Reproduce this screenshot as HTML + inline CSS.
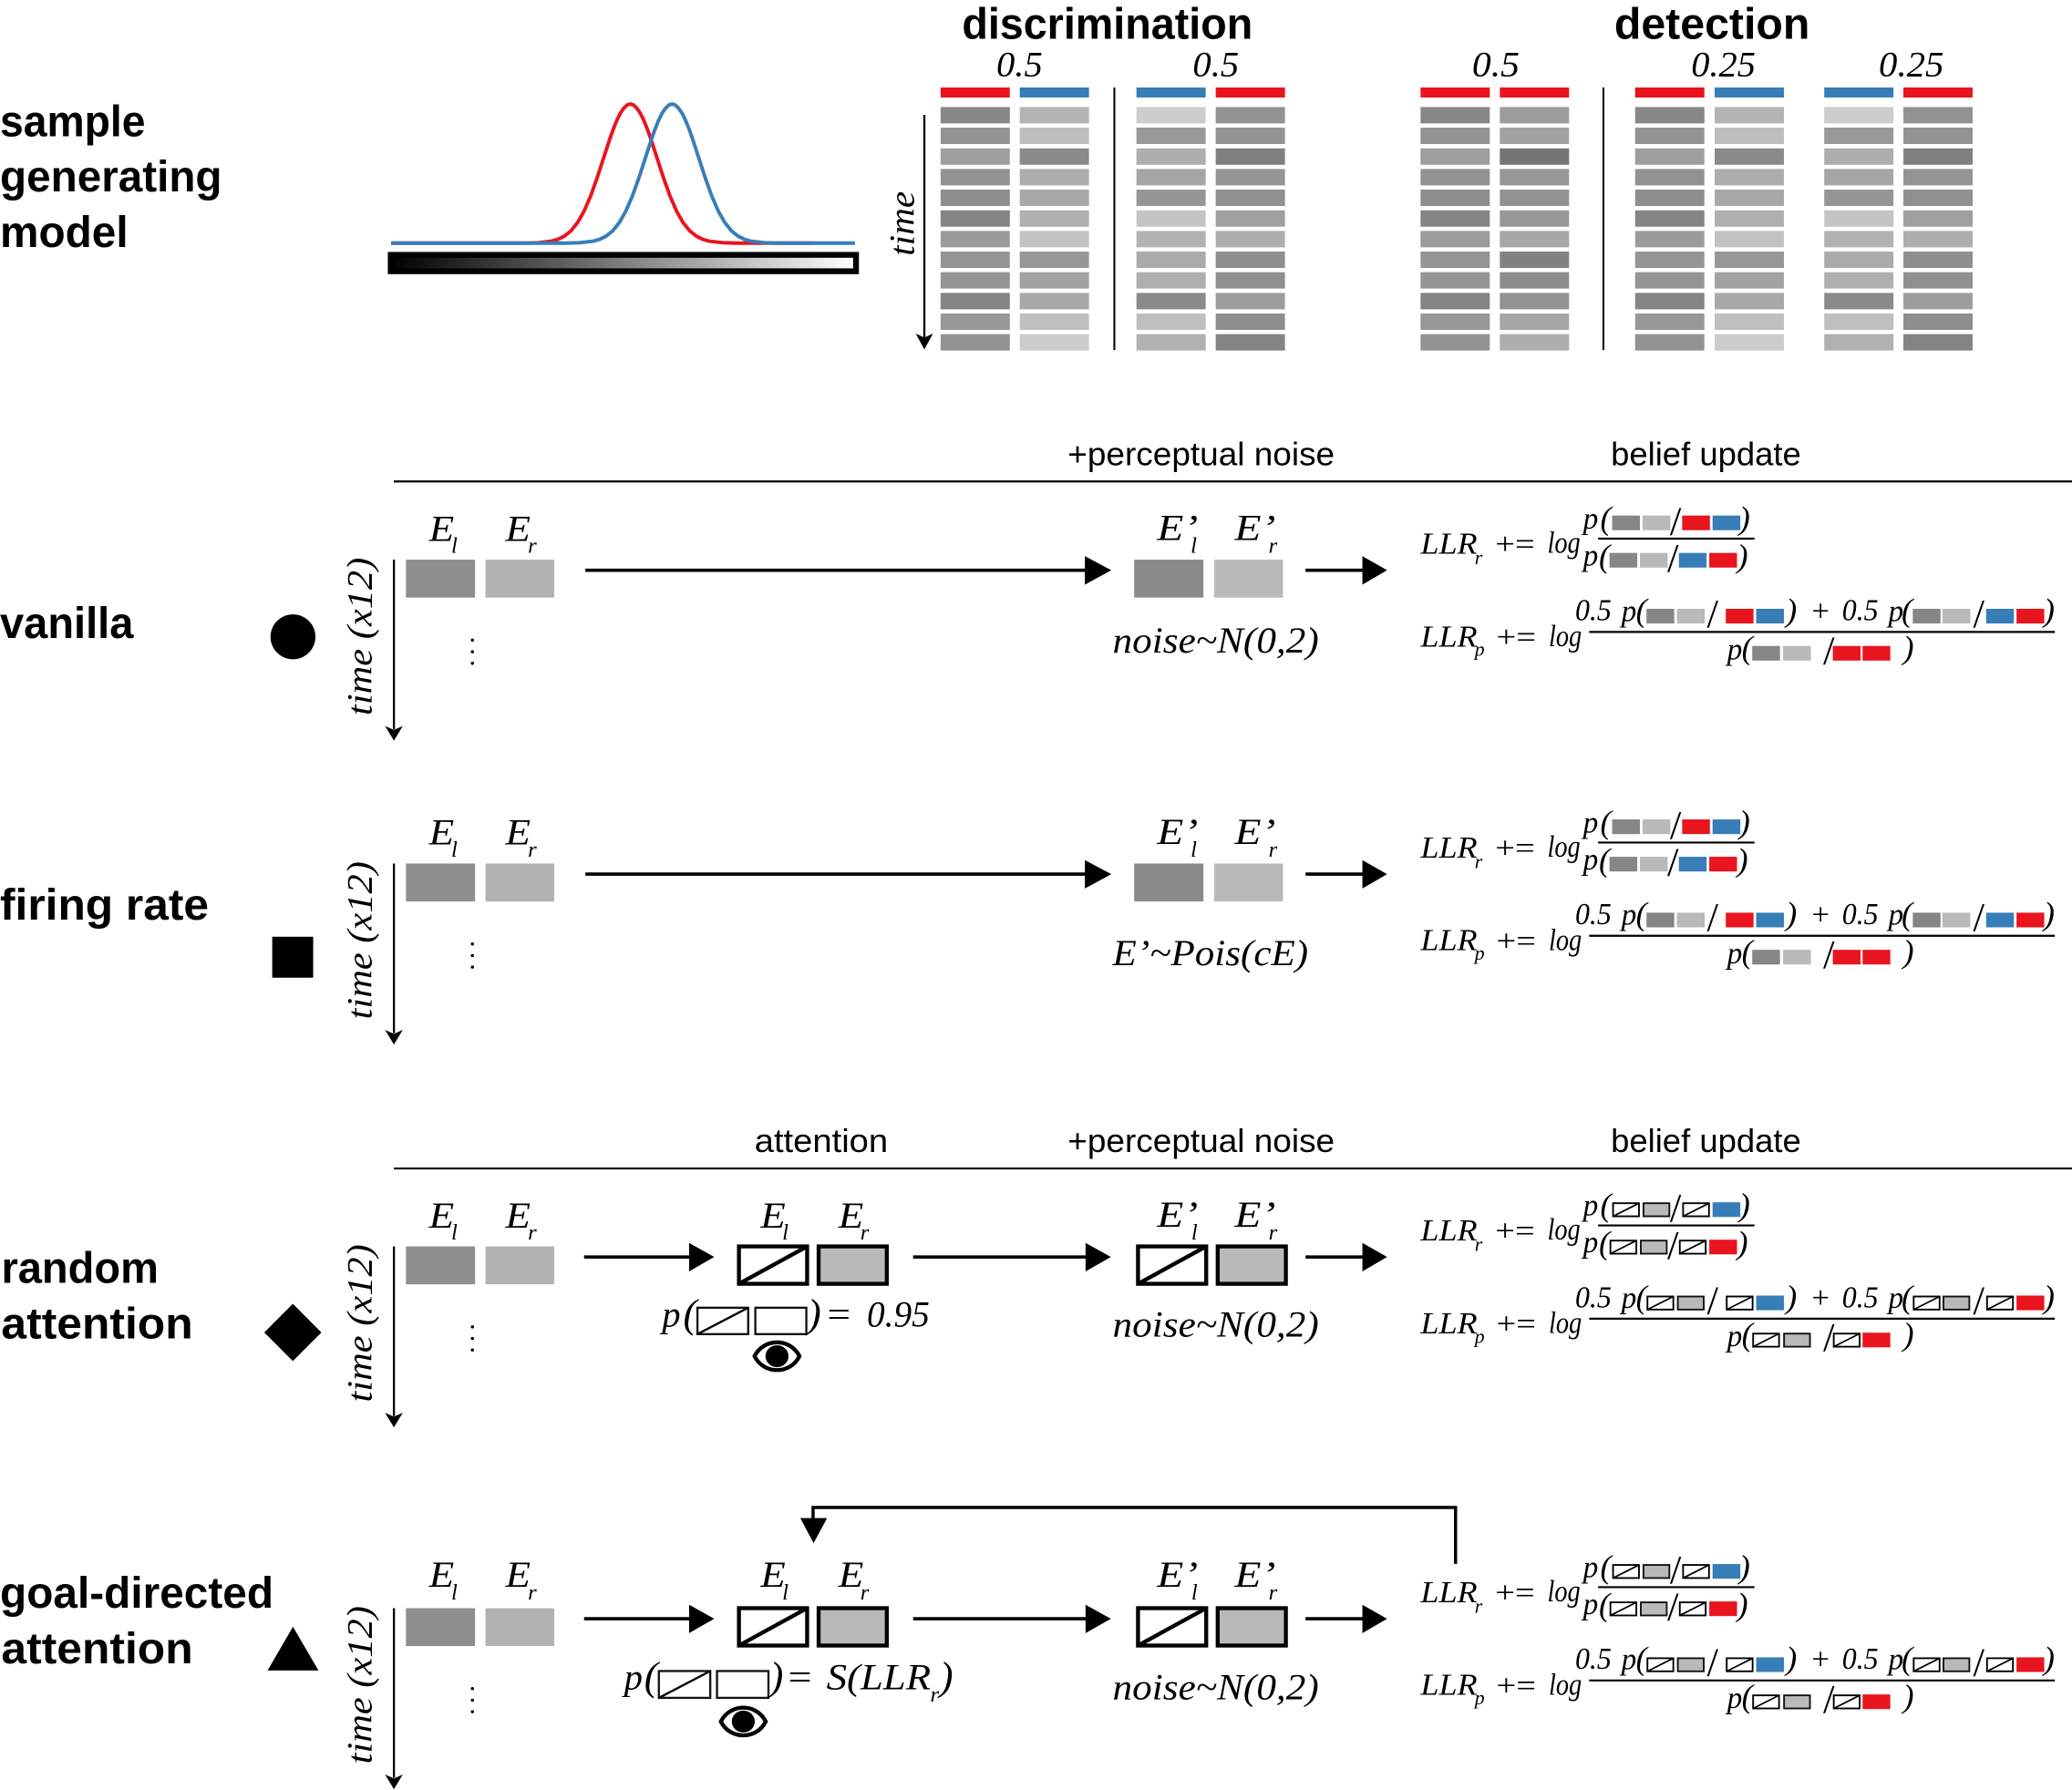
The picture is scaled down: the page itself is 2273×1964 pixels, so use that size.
<!DOCTYPE html>
<html><head><meta charset="utf-8"><title>Model diagram</title>
<style>
html,body{margin:0;padding:0;background:#fff}
svg{display:block}
text{fill:#000;white-space:pre}
.b{font:bold 33px "Liberation Sans",sans-serif}
.t{font:25px "Liberation Sans",sans-serif}
.m{font:italic 28px "Liberation Serif",serif}
.n{font:italic 27px "Liberation Serif",serif}
.s{font:italic 17px "Liberation Serif",serif}
.f{font:italic 23px "Liberation Serif",serif}
.x{font:italic 15px "Liberation Serif",serif}
.p{font:italic 25px "Liberation Serif",serif}
.l{font:31px "Liberation Serif",serif;text-anchor:middle}
.q{font:italic 31px "Liberation Serif",serif}
</style></head><body>
<svg xmlns="http://www.w3.org/2000/svg" width="2273" height="1964" viewBox="0 0 1568 1354.83">
<defs>
<linearGradient id="gr" x1="0" x2="1" y1="0" y2="0"><stop offset="0" stop-color="#000"/><stop offset="1" stop-color="#fff"/></linearGradient>
<g id="c1" fill="#888"><rect y="81" width="52.4" height="12.4" fill="#878787"/><rect y="96.6" width="52.4" height="12.4" fill="#939393"/><rect y="112.3" width="52.4" height="12.4" fill="#9e9e9e"/><rect y="127.9" width="52.4" height="12.4" fill="#929292"/><rect y="143.5" width="52.4" height="12.4" fill="#8e8e8e"/><rect y="159.2" width="52.4" height="12.4" fill="#848484"/><rect y="174.8" width="52.4" height="12.4" fill="#9b9b9b"/><rect y="190.4" width="52.4" height="12.4" fill="#949494"/><rect y="206" width="52.4" height="12.4" fill="#959595"/><rect y="221.7" width="52.4" height="12.4" fill="#848484"/><rect y="237.3" width="52.4" height="12.4" fill="#979797"/><rect y="252.9" width="52.4" height="12.4" fill="#939393"/></g>
<g id="c2"><rect y="81" width="52.4" height="12.4" fill="#b3b3b3"/><rect y="96.6" width="52.4" height="12.4" fill="#bdbdbd"/><rect y="112.3" width="52.4" height="12.4" fill="#8a8a8a"/><rect y="127.9" width="52.4" height="12.4" fill="#adadad"/><rect y="143.5" width="52.4" height="12.4" fill="#a8a8a8"/><rect y="159.2" width="52.4" height="12.4" fill="#b0b0b0"/><rect y="174.8" width="52.4" height="12.4" fill="#c2c2c2"/><rect y="190.4" width="52.4" height="12.4" fill="#979797"/><rect y="206" width="52.4" height="12.4" fill="#a2a2a2"/><rect y="221.7" width="52.4" height="12.4" fill="#a8a8a8"/><rect y="237.3" width="52.4" height="12.4" fill="#bfbfbf"/><rect y="252.9" width="52.4" height="12.4" fill="#cccccc"/></g>
<g id="c3"><rect y="81" width="52.4" height="12.4" fill="#cdcdcd"/><rect y="96.6" width="52.4" height="12.4" fill="#989898"/><rect y="112.3" width="52.4" height="12.4" fill="#aeaeae"/><rect y="127.9" width="52.4" height="12.4" fill="#a5a5a5"/><rect y="143.5" width="52.4" height="12.4" fill="#969696"/><rect y="159.2" width="52.4" height="12.4" fill="#c4c4c4"/><rect y="174.8" width="52.4" height="12.4" fill="#b2b2b2"/><rect y="190.4" width="52.4" height="12.4" fill="#aaaaaa"/><rect y="206" width="52.4" height="12.4" fill="#afafaf"/><rect y="221.7" width="52.4" height="12.4" fill="#8a8a8a"/><rect y="237.3" width="52.4" height="12.4" fill="#bfbfbf"/><rect y="252.9" width="52.4" height="12.4" fill="#b1b1b1"/></g>
<g id="c4"><rect y="81" width="52.4" height="12.4" fill="#929292"/><rect y="96.6" width="52.4" height="12.4" fill="#929292"/><rect y="112.3" width="52.4" height="12.4" fill="#808080"/><rect y="127.9" width="52.4" height="12.4" fill="#949494"/><rect y="143.5" width="52.4" height="12.4" fill="#909090"/><rect y="159.2" width="52.4" height="12.4" fill="#9f9f9f"/><rect y="174.8" width="52.4" height="12.4" fill="#aeaeae"/><rect y="190.4" width="52.4" height="12.4" fill="#8f8f8f"/><rect y="206" width="52.4" height="12.4" fill="#909090"/><rect y="221.7" width="52.4" height="12.4" fill="#9d9d9d"/><rect y="237.3" width="52.4" height="12.4" fill="#8e8e8e"/><rect y="252.9" width="52.4" height="12.4" fill="#848484"/></g>
<g id="c5"><rect y="81" width="52.4" height="12.4" fill="#878787"/><rect y="96.6" width="52.4" height="12.4" fill="#939393"/><rect y="112.3" width="52.4" height="12.4" fill="#9e9e9e"/><rect y="127.9" width="52.4" height="12.4" fill="#929292"/><rect y="143.5" width="52.4" height="12.4" fill="#8e8e8e"/><rect y="159.2" width="52.4" height="12.4" fill="#848484"/><rect y="174.8" width="52.4" height="12.4" fill="#9c9c9c"/><rect y="190.4" width="52.4" height="12.4" fill="#949494"/><rect y="206" width="52.4" height="12.4" fill="#959595"/><rect y="221.7" width="52.4" height="12.4" fill="#848484"/><rect y="237.3" width="52.4" height="12.4" fill="#979797"/><rect y="252.9" width="52.4" height="12.4" fill="#939393"/></g>
<g id="c6"><rect y="81" width="52.4" height="12.4" fill="#9c9c9c"/><rect y="96.6" width="52.4" height="12.4" fill="#a2a2a2"/><rect y="112.3" width="52.4" height="12.4" fill="#757575"/><rect y="127.9" width="52.4" height="12.4" fill="#979797"/><rect y="143.5" width="52.4" height="12.4" fill="#929292"/><rect y="159.2" width="52.4" height="12.4" fill="#979797"/><rect y="174.8" width="52.4" height="12.4" fill="#a7a7a7"/><rect y="190.4" width="52.4" height="12.4" fill="#828282"/><rect y="206" width="52.4" height="12.4" fill="#8d8d8d"/><rect y="221.7" width="52.4" height="12.4" fill="#929292"/><rect y="237.3" width="52.4" height="12.4" fill="#a5a5a5"/><rect y="252.9" width="52.4" height="12.4" fill="#aeaeae"/></g>

<g id="left">
<rect x="307.2" y="423.6" width="52.3" height="28.7" fill="#8e8e8e"/>
<rect x="367.4" y="423.6" width="52" height="28.7" fill="#b2b2b2"/>
<line x1="298.1" y1="423.6" x2="298.1" y2="552" stroke="#000" stroke-width="1.6"/>
<path d="M298.1 560.6 L291.4 549.5 L298.1 552.5 L304.8 549.5 Z" fill="#000"/>
<circle cx="357.5" cy="484.5" r="1.2"/><circle cx="357.5" cy="493.3" r="1.2"/><circle cx="357.5" cy="502" r="1.2"/>
</g>
<g id="boxA">
<rect x="1220" y="390.2" width="21" height="11.1" fill="#868686"/><rect x="1243" y="390.2" width="21" height="11.1" fill="#b9b9b9"/><rect x="1273" y="390.2" width="21" height="11.1" fill="#e8151f"/><rect x="1296" y="390.2" width="21" height="11.1" fill="#377eb8"/>
<rect x="1218" y="418.5" width="21" height="11.1" fill="#868686"/><rect x="1241" y="418.5" width="21" height="11.1" fill="#b9b9b9"/><rect x="1270.5" y="418.5" width="21" height="11.1" fill="#377eb8"/><rect x="1293.5" y="418.5" width="21" height="11.1" fill="#e8151f"/>
<rect x="1246" y="460.8" width="21" height="11.1" fill="#868686"/><rect x="1269" y="460.8" width="21" height="11.1" fill="#b9b9b9"/><rect x="1306" y="460.8" width="21" height="11.1" fill="#e8151f"/><rect x="1329" y="460.8" width="21" height="11.1" fill="#377eb8"/>
<rect x="1447.5" y="460.8" width="21" height="11.1" fill="#868686"/><rect x="1470" y="460.8" width="21" height="11.1" fill="#b9b9b9"/><rect x="1503" y="460.8" width="21" height="11.1" fill="#377eb8"/><rect x="1526" y="460.8" width="21" height="11.1" fill="#e8151f"/>
<rect x="1326" y="488.9" width="21" height="11.1" fill="#868686"/><rect x="1349.4" y="488.9" width="21" height="11.1" fill="#b9b9b9"/><rect x="1387" y="488.9" width="21" height="11.1" fill="#e8151f"/><rect x="1409.5" y="488.9" width="21" height="11.1" fill="#e8151f"/>
</g>
<g id="h"><rect x=".7" y=".7" width="19.6" height="9.9" fill="#fff" stroke="#000" stroke-width="1.3"/><line x1=".7" y1="10.6" x2="20.3" y2=".7" stroke="#000" stroke-width="1.2"/></g>
<g id="g"><rect x=".7" y=".7" width="19.6" height="9.9" fill="#b9b9b9" stroke="#111" stroke-width="1.3"/></g>
<g id="boxB">
<use href="#h" x="1220" y="390.2"/><use href="#g" x="1243" y="390.2"/><use href="#h" x="1273" y="390.2"/><rect x="1296" y="390.2" width="21" height="11.1" fill="#377eb8"/>
<use href="#h" x="1218" y="418.5"/><use href="#g" x="1241" y="418.5"/><use href="#h" x="1270.5" y="418.5"/><rect x="1293.5" y="418.5" width="21" height="11.1" fill="#e8151f"/>
<use href="#h" x="1246" y="460.8"/><use href="#g" x="1269" y="460.8"/><use href="#h" x="1306" y="460.8"/><rect x="1329" y="460.8" width="21" height="11.1" fill="#377eb8"/>
<use href="#h" x="1447.5" y="460.8"/><use href="#g" x="1470" y="460.8"/><use href="#h" x="1503" y="460.8"/><rect x="1526" y="460.8" width="21" height="11.1" fill="#e8151f"/>
<use href="#h" x="1326" y="488.9"/><use href="#g" x="1349.4" y="488.9"/><use href="#h" x="1387" y="488.9"/><rect x="1409.5" y="488.9" width="21" height="11.1" fill="#e8151f"/>
</g>
<g id="fr">
<line x1="1209.4" y1="407.7" x2="1327.7" y2="407.7" stroke="#000" stroke-width="1.5"/>
<line x1="1202.6" y1="478.3" x2="1555" y2="478.3" stroke="#000" stroke-width="1.5"/>
<line x1="988" y1="431.6" x2="1032" y2="431.6" stroke="#000" stroke-width="2.5"/>
<path d="M1031 421 L1049.7 431.6 L1031 442.5 Z"/>
</g>
<g id="big">
<rect x="1.5" y="1.5" width="51.6" height="28.3" fill="#fff" stroke="#000" stroke-width="3"/><line x1="1.5" y1="29.8" x2="53.1" y2="1.5" stroke="#000" stroke-width="3"/>
<rect x="61.8" y="1.5" width="51.6" height="28.3" fill="#b9b9b9" stroke="#000" stroke-width="3"/>
</g>
<g id="eye"><path d="M-17 0 C-10 -14 10 -14 17 0 C10 14 -10 14 -17 0 Z" fill="#fff" stroke="#000" stroke-width="3"/><ellipse rx="8.7" ry="8.3"/></g>
</defs>

<rect width="1568" height="1355" fill="#fff"/>

<text class="b" x="0" y="103" textLength="110" lengthAdjust="spacingAndGlyphs">sample</text>
<text class="b" x="0" y="145" textLength="168" lengthAdjust="spacingAndGlyphs">generating</text>
<text class="b" x="0" y="187" textLength="97" lengthAdjust="spacingAndGlyphs">model</text>

<polyline fill="none" stroke="#e8151f" stroke-width="2.7" stroke-linejoin="round" points="296,184 397,184 407,183.7 417,182.6 422,181.2 427,178.8 432,174.8 437,168.6 442,159.8 447,148.3 452,134.3 457,118.9 462,103.6 464.5,96.7 467,90.6 469.5,85.6 472,82 474.5,79.5 477,78.7 479.5,79.5 482,82 484.5,85.6 487,90.6 489.5,96.7 492,103.6 497,118.9 502,134.3 507,148.3 512,159.8 517,168.6 522,174.8 527,178.8 532,181.2 537,182.6 547,183.7 557,184 616,184"/>
<polyline fill="none" stroke="#377eb8" stroke-width="2.7" stroke-linejoin="round" points="296,184 428.6,184 438.6,183.7 448.6,182.6 453.6,181.2 458.6,178.8 463.6,174.8 468.6,168.6 473.6,159.8 478.6,148.3 483.6,134.3 488.6,118.9 493.6,103.6 496.1,96.7 498.6,90.6 501.1,85.6 503.6,82 506.1,79.5 508.6,78.7 511.1,79.5 513.6,82 516.1,85.6 518.6,90.6 521.1,96.7 523.6,103.6 528.6,118.9 533.6,134.3 538.6,148.3 543.6,159.8 548.6,168.6 553.6,174.8 558.6,178.8 563.6,181.2 568.6,182.6 578.6,183.7 588.6,184 647,184"/>
<rect x="295.7" y="192.9" width="352.1" height="12.4" fill="url(#gr)" stroke="#000" stroke-width="4.4"/>

<text class="b" x="728" y="29.4" textLength="220" lengthAdjust="spacingAndGlyphs">discrimination</text>
<text class="b" x="1221.6" y="29.4" textLength="148" lengthAdjust="spacingAndGlyphs">detection</text>
<text class="n" x="754" y="57.5" textLength="35" lengthAdjust="spacingAndGlyphs">0.5</text>
<text class="n" x="902.6" y="57.5" textLength="35" lengthAdjust="spacingAndGlyphs">0.5</text>
<text class="n" x="1114" y="57.5" textLength="36" lengthAdjust="spacingAndGlyphs">0.5</text>
<text class="n" x="1279.8" y="57.5" textLength="48.8" lengthAdjust="spacingAndGlyphs">0.25</text>
<text class="n" x="1421.8" y="57.5" textLength="49.2" lengthAdjust="spacingAndGlyphs">0.25</text>

<g>
<rect x="711.8" y="66.2" width="52.4" height="7.6" fill="#e8151f"/><rect x="771.7" y="66.2" width="52.4" height="7.6" fill="#377eb8"/>
<rect x="860" y="66.2" width="52.4" height="7.6" fill="#377eb8"/><rect x="920" y="66.2" width="52.4" height="7.6" fill="#e8151f"/>
<rect x="1075" y="66.2" width="52.4" height="7.6" fill="#e8151f"/><rect x="1135" y="66.2" width="52.4" height="7.6" fill="#e8151f"/>
<rect x="1237.4" y="66.2" width="52.4" height="7.6" fill="#e8151f"/><rect x="1297.6" y="66.2" width="52.4" height="7.6" fill="#377eb8"/>
<rect x="1380.5" y="66.2" width="52.4" height="7.6" fill="#377eb8"/><rect x="1440.4" y="66.2" width="52.4" height="7.6" fill="#e8151f"/>
</g>
<use href="#c1" x="711.8"/><use href="#c2" x="771.7"/><use href="#c3" x="860"/><use href="#c4" x="920"/>
<use href="#c5" x="1075"/><use href="#c6" x="1135"/><use href="#c1" x="1237.4"/><use href="#c2" x="1297.6"/><use href="#c3" x="1380.5"/><use href="#c4" x="1440.4"/>
<line x1="843.3" y1="66.2" x2="843.3" y2="265" stroke="#000" stroke-width="1.4"/>
<line x1="1213.4" y1="66.2" x2="1213.4" y2="265" stroke="#000" stroke-width="1.4"/>
<line x1="699.5" y1="87" x2="699.5" y2="256" stroke="#000" stroke-width="1.6"/>
<path d="M699.5 264.5 L693 252.5 L699.5 255.5 L706 252.5 Z"/>
<text class="n" transform="translate(691.5 193.7) rotate(-90)" textLength="49" lengthAdjust="spacingAndGlyphs">time</text>

<text class="t" x="808" y="352.3" textLength="202" lengthAdjust="spacingAndGlyphs">+perceptual noise</text>
<text class="t" x="1219" y="352.3" textLength="144" lengthAdjust="spacingAndGlyphs">belief update</text>
<line x1="298" y1="364.4" x2="1568" y2="364.4" stroke="#000" stroke-width="1.5"/>
<text class="t" x="571" y="872" textLength="101" lengthAdjust="spacingAndGlyphs">attention</text>
<text class="t" x="808" y="872" textLength="202" lengthAdjust="spacingAndGlyphs">+perceptual noise</text>
<text class="t" x="1219" y="872" textLength="144" lengthAdjust="spacingAndGlyphs">belief update</text>
<line x1="298" y1="884.4" x2="1568" y2="884.4" stroke="#000" stroke-width="1.5"/>

<text class="b" x="0" y="483" textLength="101" lengthAdjust="spacingAndGlyphs">vanilla</text>
<text class="b" x="0" y="696" textLength="158" lengthAdjust="spacingAndGlyphs">firing rate</text>
<text class="b" x="1" y="970.8" textLength="119" lengthAdjust="spacingAndGlyphs">random</text>
<text class="b" x="1" y="1013" textLength="145" lengthAdjust="spacingAndGlyphs">attention</text>
<text class="b" x="0" y="1216.8" textLength="207" lengthAdjust="spacingAndGlyphs">goal-directed</text>
<text class="b" x="1" y="1258.8" textLength="145" lengthAdjust="spacingAndGlyphs">attention</text>
<circle cx="221.7" cy="482" r="17"/>
<rect x="206" y="709" width="31" height="31"/>
<polygon points="200,1008.5 221.6,986.8 243.2,1008.5 221.6,1030.2"/>
<polygon points="221.7,1231.3 241,1264.4 202.5,1264.4"/>

<g>
<use href="#left"/>
<text class="n" transform="translate(281 541.5) rotate(-90)" textLength="119.5" lengthAdjust="spacingAndGlyphs">time (x12)</text>
<text class="m" x="324.7" y="409.3" textLength="19" lengthAdjust="spacingAndGlyphs">E</text><text class="s" x="341.5" y="418.5">l</text>
<text class="m" x="382.5" y="409.3" textLength="19" lengthAdjust="spacingAndGlyphs">E</text><text class="s" x="399.5" y="418.5">r</text>
<line x1="443" y1="431.6" x2="822" y2="431.6" stroke="#000" stroke-width="2.5"/><path d="M821 421 L841 431.6 L821 442.5 Z"/>
<rect x="858.3" y="423.6" width="52.4" height="28.7" fill="#8a8a8a"/><rect x="918.9" y="423.6" width="52" height="28.7" fill="#b9b9b9"/>
<text class="m" x="875.6" y="408.8" textLength="31" lengthAdjust="spacingAndGlyphs">E’</text><text class="s" x="901" y="418.5">l</text>
<text class="m" x="934.3" y="408.8" textLength="31" lengthAdjust="spacingAndGlyphs">E’</text><text class="s" x="960" y="418.5">r</text>
<text class="m" x="842" y="494" textLength="156" lengthAdjust="spacingAndGlyphs">noise~N(0,2)</text>
<use href="#boxA"/><use href="#fr"/>
<text class="f" x="1075" y="419" textLength="43" lengthAdjust="spacingAndGlyphs">LLR</text><text class="x" x="1116" y="427">r</text>
<text class="f" x="1131.5" y="419.5" textLength="30" lengthAdjust="spacingAndGlyphs" style="font-style:normal">+=</text><text class="f" x="1171" y="418.5" textLength="25" lengthAdjust="spacingAndGlyphs">log</text>
<text class="f" x="1198" y="400">p</text><text class="p" x="1211" y="400.5">(</text><text class="l" x="1268" y="404.5">/</text><text class="p" x="1316" y="400.5">)</text>
<text class="f" x="1198" y="428">p</text><text class="p" x="1210" y="429">(</text><text class="l" x="1266" y="432.7">/</text><text class="p" x="1314.5" y="429">)</text>
<text class="f" x="1075" y="489.3" textLength="43" lengthAdjust="spacingAndGlyphs">LLR</text><text class="x" x="1116" y="496.5">p</text>
<text class="f" x="1132.4" y="489.8" textLength="30" lengthAdjust="spacingAndGlyphs" style="font-style:normal">+=</text><text class="f" x="1172" y="489" textLength="25" lengthAdjust="spacingAndGlyphs">log</text>
<text class="f" x="1192" y="469.6" textLength="27.5" lengthAdjust="spacingAndGlyphs">0.5</text><text class="f" x="1227" y="470">p</text><text class="p" x="1238" y="470">(</text><text class="l" x="1296" y="474.5">/</text><text class="p" x="1351.5" y="470">)</text>
<text class="f" x="1371" y="470" textLength="13.5" lengthAdjust="spacingAndGlyphs" style="font-style:normal">+</text>
<text class="f" x="1394" y="469.6" textLength="27.5" lengthAdjust="spacingAndGlyphs">0.5</text><text class="f" x="1429" y="470">p</text><text class="p" x="1439" y="470">(</text><text class="l" x="1497.5" y="474.5">/</text><text class="p" x="1546.5" y="470">)</text>
<text class="f" x="1307" y="499">p</text><text class="p" x="1318" y="498.5">(</text><text class="l" x="1384" y="502.5">/</text><text class="p" x="1440" y="498.5">)</text>
</g>

<g transform="translate(0 230)">
<use href="#left"/>
<text class="n" transform="translate(281 541.5) rotate(-90)" textLength="119.5" lengthAdjust="spacingAndGlyphs">time (x12)</text>
<text class="m" x="324.7" y="409.3" textLength="19" lengthAdjust="spacingAndGlyphs">E</text><text class="s" x="341.5" y="418.5">l</text>
<text class="m" x="382.5" y="409.3" textLength="19" lengthAdjust="spacingAndGlyphs">E</text><text class="s" x="399.5" y="418.5">r</text>
<line x1="443" y1="431.6" x2="822" y2="431.6" stroke="#000" stroke-width="2.5"/><path d="M821 421 L841 431.6 L821 442.5 Z"/>
<rect x="858.3" y="423.6" width="52.4" height="28.7" fill="#8a8a8a"/><rect x="918.9" y="423.6" width="52" height="28.7" fill="#b9b9b9"/>
<text class="m" x="875.6" y="408.8" textLength="31" lengthAdjust="spacingAndGlyphs">E’</text><text class="s" x="901" y="418.5">l</text>
<text class="m" x="934.3" y="408.8" textLength="31" lengthAdjust="spacingAndGlyphs">E’</text><text class="s" x="960" y="418.5">r</text>
<text class="m" x="842" y="500.5" textLength="148" lengthAdjust="spacingAndGlyphs">E’~Pois(cE)</text>
<use href="#boxA"/><use href="#fr"/>
<text class="f" x="1075" y="419" textLength="43" lengthAdjust="spacingAndGlyphs">LLR</text><text class="x" x="1116" y="427">r</text>
<text class="f" x="1131.5" y="419.5" textLength="30" lengthAdjust="spacingAndGlyphs" style="font-style:normal">+=</text><text class="f" x="1171" y="418.5" textLength="25" lengthAdjust="spacingAndGlyphs">log</text>
<text class="f" x="1198" y="400">p</text><text class="p" x="1211" y="400.5">(</text><text class="l" x="1268" y="404.5">/</text><text class="p" x="1316" y="400.5">)</text>
<text class="f" x="1198" y="428">p</text><text class="p" x="1210" y="429">(</text><text class="l" x="1266" y="432.7">/</text><text class="p" x="1314.5" y="429">)</text>
<text class="f" x="1075" y="489.3" textLength="43" lengthAdjust="spacingAndGlyphs">LLR</text><text class="x" x="1116" y="496.5">p</text>
<text class="f" x="1132.4" y="489.8" textLength="30" lengthAdjust="spacingAndGlyphs" style="font-style:normal">+=</text><text class="f" x="1172" y="489" textLength="25" lengthAdjust="spacingAndGlyphs">log</text>
<text class="f" x="1192" y="469.6" textLength="27.5" lengthAdjust="spacingAndGlyphs">0.5</text><text class="f" x="1227" y="470">p</text><text class="p" x="1238" y="470">(</text><text class="l" x="1296" y="474.5">/</text><text class="p" x="1351.5" y="470">)</text>
<text class="f" x="1371" y="470" textLength="13.5" lengthAdjust="spacingAndGlyphs" style="font-style:normal">+</text>
<text class="f" x="1394" y="469.6" textLength="27.5" lengthAdjust="spacingAndGlyphs">0.5</text><text class="f" x="1429" y="470">p</text><text class="p" x="1439" y="470">(</text><text class="l" x="1497.5" y="474.5">/</text><text class="p" x="1546.5" y="470">)</text>
<text class="f" x="1307" y="499">p</text><text class="p" x="1318" y="498.5">(</text><text class="l" x="1384" y="502.5">/</text><text class="p" x="1440" y="498.5">)</text>
</g>

<g transform="translate(0 519.8)">
<use href="#left"/>
<text class="n" transform="translate(281 541.5) rotate(-90)" textLength="119.5" lengthAdjust="spacingAndGlyphs">time (x12)</text>
<text class="m" x="324.7" y="409.3" textLength="19" lengthAdjust="spacingAndGlyphs">E</text><text class="s" x="341.5" y="418.5">l</text>
<text class="m" x="382.5" y="409.3" textLength="19" lengthAdjust="spacingAndGlyphs">E</text><text class="s" x="399.5" y="418.5">r</text>
<line x1="442" y1="431.6" x2="522" y2="431.6" stroke="#000" stroke-width="2.5"/><path d="M521.5 421 L540.5 431.6 L521.5 442.5 Z"/>
<use href="#big" x="557.7" y="422.1"/>
<text class="m" x="575.5" y="409.3" textLength="19" lengthAdjust="spacingAndGlyphs">E</text><text class="s" x="592" y="418.5">l</text>
<text class="m" x="634.5" y="409.3" textLength="19" lengthAdjust="spacingAndGlyphs">E</text><text class="s" x="651" y="418.5">r</text>
<line x1="691" y1="431.6" x2="822" y2="431.6" stroke="#000" stroke-width="2.5"/><path d="M821.5 421 L840.7 431.6 L821.5 442.5 Z"/>
<use href="#big" x="859.7" y="422.1"/>
<text class="m" x="875.6" y="408.8" textLength="31" lengthAdjust="spacingAndGlyphs">E’</text><text class="s" x="901.5" y="418.5">l</text>
<text class="m" x="934.3" y="408.8" textLength="31" lengthAdjust="spacingAndGlyphs">E’</text><text class="s" x="960" y="418.5">r</text>
<text class="m" x="842" y="491.7" textLength="156" lengthAdjust="spacingAndGlyphs">noise~N(0,2)</text>
<use href="#boxB"/><use href="#fr"/>
<text class="f" x="1075" y="419" textLength="43" lengthAdjust="spacingAndGlyphs">LLR</text><text class="x" x="1116" y="427">r</text>
<text class="f" x="1131.5" y="419.5" textLength="30" lengthAdjust="spacingAndGlyphs" style="font-style:normal">+=</text><text class="f" x="1171" y="418.5" textLength="25" lengthAdjust="spacingAndGlyphs">log</text>
<text class="f" x="1198" y="400">p</text><text class="p" x="1211" y="400.5">(</text><text class="l" x="1268" y="404.5">/</text><text class="p" x="1316" y="400.5">)</text>
<text class="f" x="1198" y="428">p</text><text class="p" x="1210" y="429">(</text><text class="l" x="1266" y="432.7">/</text><text class="p" x="1314.5" y="429">)</text>
<text class="f" x="1075" y="489.3" textLength="43" lengthAdjust="spacingAndGlyphs">LLR</text><text class="x" x="1116" y="496.5">p</text>
<text class="f" x="1132.4" y="489.8" textLength="30" lengthAdjust="spacingAndGlyphs" style="font-style:normal">+=</text><text class="f" x="1172" y="489" textLength="25" lengthAdjust="spacingAndGlyphs">log</text>
<text class="f" x="1192" y="469.6" textLength="27.5" lengthAdjust="spacingAndGlyphs">0.5</text><text class="f" x="1227" y="470">p</text><text class="p" x="1238" y="470">(</text><text class="l" x="1296" y="474.5">/</text><text class="p" x="1351.5" y="470">)</text>
<text class="f" x="1371" y="470" textLength="13.5" lengthAdjust="spacingAndGlyphs" style="font-style:normal">+</text>
<text class="f" x="1394" y="469.6" textLength="27.5" lengthAdjust="spacingAndGlyphs">0.5</text><text class="f" x="1429" y="470">p</text><text class="p" x="1439" y="470">(</text><text class="l" x="1497.5" y="474.5">/</text><text class="p" x="1546.5" y="470">)</text>
<text class="f" x="1307" y="499">p</text><text class="p" x="1318" y="498.5">(</text><text class="l" x="1384" y="502.5">/</text><text class="p" x="1440" y="498.5">)</text>
</g>
<text class="m" x="501" y="1004">p</text><text class="q" x="517" y="1004.5">(</text>
<rect x="527.8" y="989.8" width="38.4" height="20" fill="#fff" stroke="#111" stroke-width="1.6"/><line x1="527.8" y1="1009.8" x2="566.2" y2="989.8" stroke="#000" stroke-width="1.6"/>
<rect x="571.6" y="989.8" width="38.6" height="20" fill="#fff" stroke="#111" stroke-width="1.6"/>
<text class="q" x="611" y="1004.5">)</text>
<text class="m" x="626" y="1004" textLength="17.6" lengthAdjust="spacingAndGlyphs" style="font-style:normal">=</text>
<text class="m" x="656" y="1004" textLength="47.5" lengthAdjust="spacingAndGlyphs">0.95</text>
<use href="#eye" x="588" y="1026.5"/>

<g transform="translate(0 793.6)">
<use href="#left"/>
<text class="n" transform="translate(281 541.5) rotate(-90)" textLength="119.5" lengthAdjust="spacingAndGlyphs">time (x12)</text>
<text class="m" x="324.7" y="407.5" textLength="19" lengthAdjust="spacingAndGlyphs">E</text><text class="s" x="341.5" y="417">l</text>
<text class="m" x="382.5" y="407.5" textLength="19" lengthAdjust="spacingAndGlyphs">E</text><text class="s" x="399.5" y="417">r</text>
<line x1="442" y1="431.6" x2="522" y2="431.6" stroke="#000" stroke-width="2.5"/><path d="M521.5 421 L540.5 431.6 L521.5 442.5 Z"/>
<use href="#big" x="557.7" y="422.1"/>
<text class="m" x="575.5" y="407.5" textLength="19" lengthAdjust="spacingAndGlyphs">E</text><text class="s" x="592" y="417">l</text>
<text class="m" x="634.5" y="407.5" textLength="19" lengthAdjust="spacingAndGlyphs">E</text><text class="s" x="651" y="417">r</text>
<line x1="691" y1="431.6" x2="822" y2="431.6" stroke="#000" stroke-width="2.5"/><path d="M821.5 421 L840.7 431.6 L821.5 442.5 Z"/>
<use href="#big" x="859.7" y="422.1"/>
<text class="m" x="875.6" y="407.5" textLength="31" lengthAdjust="spacingAndGlyphs">E’</text><text class="s" x="901.5" y="417">l</text>
<text class="m" x="934.3" y="407.5" textLength="31" lengthAdjust="spacingAndGlyphs">E’</text><text class="s" x="960" y="417">r</text>
<text class="m" x="842" y="492.5" textLength="156" lengthAdjust="spacingAndGlyphs">noise~N(0,2)</text>
<use href="#boxB"/><use href="#fr"/>
<text class="f" x="1075" y="419" textLength="43" lengthAdjust="spacingAndGlyphs">LLR</text><text class="x" x="1116" y="427">r</text>
<text class="f" x="1131.5" y="419.5" textLength="30" lengthAdjust="spacingAndGlyphs" style="font-style:normal">+=</text><text class="f" x="1171" y="418.5" textLength="25" lengthAdjust="spacingAndGlyphs">log</text>
<text class="f" x="1198" y="400">p</text><text class="p" x="1211" y="400.5">(</text><text class="l" x="1268" y="404.5">/</text><text class="p" x="1316" y="400.5">)</text>
<text class="f" x="1198" y="428">p</text><text class="p" x="1210" y="429">(</text><text class="l" x="1266" y="432.7">/</text><text class="p" x="1314.5" y="429">)</text>
<text class="f" x="1075" y="489.3" textLength="43" lengthAdjust="spacingAndGlyphs">LLR</text><text class="x" x="1116" y="496.5">p</text>
<text class="f" x="1132.4" y="489.8" textLength="30" lengthAdjust="spacingAndGlyphs" style="font-style:normal">+=</text><text class="f" x="1172" y="489" textLength="25" lengthAdjust="spacingAndGlyphs">log</text>
<text class="f" x="1192" y="469.6" textLength="27.5" lengthAdjust="spacingAndGlyphs">0.5</text><text class="f" x="1227" y="470">p</text><text class="p" x="1238" y="470">(</text><text class="l" x="1296" y="474.5">/</text><text class="p" x="1351.5" y="470">)</text>
<text class="f" x="1371" y="470" textLength="13.5" lengthAdjust="spacingAndGlyphs" style="font-style:normal">+</text>
<text class="f" x="1394" y="469.6" textLength="27.5" lengthAdjust="spacingAndGlyphs">0.5</text><text class="f" x="1429" y="470">p</text><text class="p" x="1439" y="470">(</text><text class="l" x="1497.5" y="474.5">/</text><text class="p" x="1546.5" y="470">)</text>
<text class="f" x="1307" y="499">p</text><text class="p" x="1318" y="498.5">(</text><text class="l" x="1384" y="502.5">/</text><text class="p" x="1440" y="498.5">)</text>
</g>
<text class="m" x="472.3" y="1278.5">p</text><text class="q" x="487.5" y="1279">(</text>
<rect x="498.6" y="1264.8" width="38.9" height="20.3" fill="#fff" stroke="#111" stroke-width="1.6"/><line x1="498.6" y1="1285.1" x2="537.5" y2="1264.8" stroke="#000" stroke-width="1.6"/>
<rect x="542.6" y="1264.8" width="38.9" height="20.3" fill="#fff" stroke="#111" stroke-width="1.6"/>
<text class="q" x="582.5" y="1279">)</text>
<text class="m" x="596.4" y="1278.5" textLength="18" lengthAdjust="spacingAndGlyphs" style="font-style:normal">=</text>
<text class="m" x="625.4" y="1278.5" textLength="79" lengthAdjust="spacingAndGlyphs">S(LLR</text><text class="s" x="704" y="1288">r</text>
<text class="q" x="711" y="1279">)</text>
<use href="#eye" x="562.5" y="1303"/>
<path d="M1101.5 1183.7 V1141 H615.3 V1150" fill="none" stroke="#000" stroke-width="2.4"/>
<path d="M605.6 1149 H625.9 L615.7 1168 Z"/>
</svg>
</body></html>
